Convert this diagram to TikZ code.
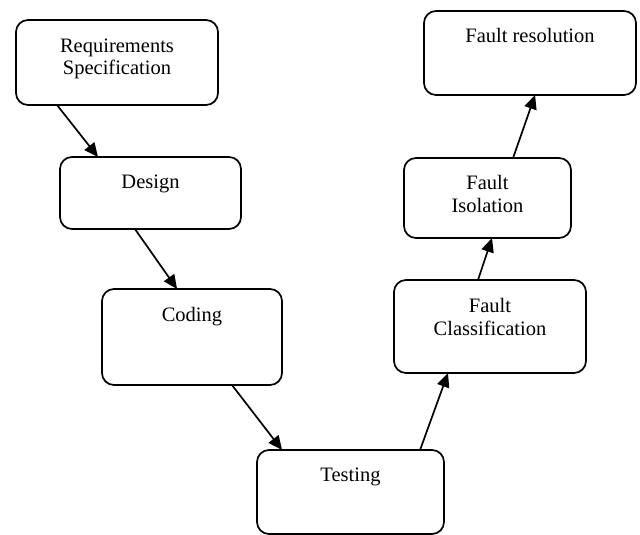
\documentclass[tikz,border=0pt]{standalone}
\usepackage{fontspec}
\setmainfont{Liberation Serif}
\usetikzlibrary{arrows.meta,calc}
\begin{document}
\begin{tikzpicture}[x=1pt,y=-1pt,
  box/.style={draw, line width=1.7pt, rounded corners=12pt, inner sep=0pt, outer sep=0pt},
  lbl/.style={anchor=north, inner sep=0pt, align=center, font=\fontsize{20.5}{22.7}\selectfont},
  arr/.style={line width=1.7pt, -{Triangle[length=14pt,width=12.5pt]}}]
\useasboundingbox (0,0) rectangle (640,535);
% boxes
\node[box, minimum width=202pt, minimum height=85pt] (req) at (117,62.5) {};
\node[box, minimum width=181pt, minimum height=72pt] (des) at (150.5,193) {};
\node[box, minimum width=180pt, minimum height=96pt] (cod) at (192,337) {};
\node[box, minimum width=187pt, minimum height=84pt] (tst) at (350.5,492) {};
\node[box, minimum width=192pt, minimum height=93pt] (fc) at (490,326.5) {};
\node[box, minimum width=167pt, minimum height=80pt] (fi) at (487.5,198) {};
\node[box, minimum width=212pt, minimum height=84pt] (fr) at (530,53) {};
% labels
\node[lbl] (req-t) at ($(req.north)+(0,18.5)$) {Requirements\\Specification};
\node[lbl] (des-t) at ($(des.north)+(0,17.5)$) {Design};
\node[lbl] (cod-t) at ($(cod.north)+(0,18.5)$) {Coding};
\node[lbl] (tst-t) at ($(tst.north)+(0,17.5)$) {Testing};
\node[lbl] (fc-t) at ($(fc.north)+(0,18.5)$) {Fault\\Classification};
\node[lbl] (fi-t) at ($(fi.north)+(0,17.5)$) {Fault\\Isolation};
\node[lbl] (fr-t) at ($(fr.north)+(0,17.5)$) {Fault resolution};
% arrows
\draw[arr] ($(req.south west)!0.203!(req.south east)$) -- ($(des.north west)!0.21!(des.north east)$);
\draw[arr] ($(des.south west)!0.414!(des.south east)$) -- ($(cod.north west)!0.417!(cod.north east)$);
\draw[arr] ($(cod.south west)!0.722!(cod.south east)$) -- ($(tst.north west)!0.134!(tst.north east)$);
\draw[arr] ($(tst.north west)!0.872!(tst.north east)$) -- ($(fc.south west)!0.281!(fc.south east)$);
\draw[arr] ($(fc.north west)!0.4375!(fc.north east)$) -- ($(fi.south west)!0.527!(fi.south east)$);
\draw[arr] ($(fi.north west)!0.653!(fi.north east)$) -- ($(fr.south west)!0.524!(fr.south east)$);
\end{tikzpicture}
\end{document}
